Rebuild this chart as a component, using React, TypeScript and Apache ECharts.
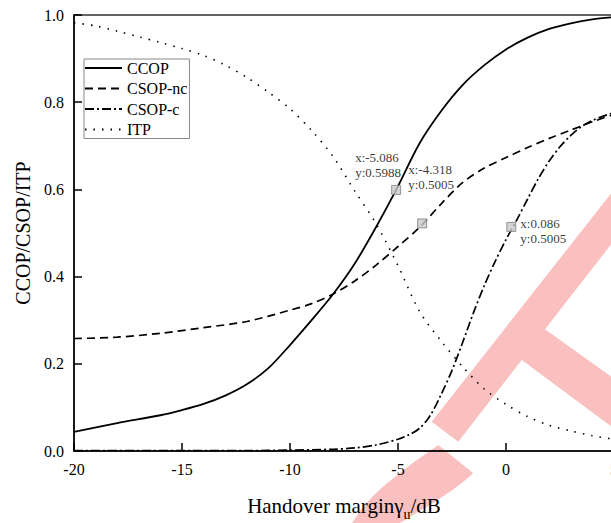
import React, { useEffect, useRef } from "react";
import * as echarts from "echarts";

const seriesNames = ["CCOP", "CSOP-nc", "CSOP-c", "ITP"];

const ccopX = [-20, -18, -16, -15, -14, -13, -12, -11, -10, -9, -8, -7, -6, -5.086, -4, -3, -2, -1, 0, 1, 2, 3, 4, 5];
const ccopY = [0.044, 0.064, 0.082, 0.094, 0.108, 0.127, 0.153, 0.19, 0.243, 0.3, 0.36, 0.43, 0.515, 0.5988, 0.706, 0.78, 0.84, 0.885, 0.921, 0.948, 0.968, 0.981, 0.99, 0.995];

const ncX = [-20, -18, -16, -14, -12, -10, -9, -8, -7, -6, -5, -4, -3, -2, -1, 0, 1, 2, 3, 4, 5];
const ncY = [0.258, 0.261, 0.27, 0.283, 0.297, 0.323, 0.338, 0.36, 0.39, 0.427, 0.469, 0.513, 0.567, 0.616, 0.649, 0.673, 0.696, 0.717, 0.736, 0.755, 0.772];

const cX = [-20, -12, -10, -8, -7, -6, -5, -4.5, -4, -3.5, -3, -2.5, -2, -1.5, -1, -0.5, 0, 0.5, 1, 1.5, 2, 2.5, 3, 3.5, 4, 4.5, 5];
const cY = [0.001, 0.001, 0.002, 0.004, 0.007, 0.014, 0.027, 0.037, 0.052, 0.082, 0.13, 0.185, 0.25, 0.318, 0.38, 0.435, 0.485, 0.53, 0.578, 0.625, 0.665, 0.698, 0.724, 0.744, 0.758, 0.768, 0.776];

const itpX = [-20, -19, -18, -17, -16, -15, -14, -13, -12, -11, -10, -9, -8, -7, -6, -5, -4, -3, -2, -1, 0, 1, 2, 3, 4, 5];
const itpY = [0.982, 0.975, 0.963, 0.95, 0.937, 0.923, 0.907, 0.885, 0.857, 0.823, 0.785, 0.735, 0.675, 0.596, 0.52, 0.425, 0.32, 0.252, 0.193, 0.142, 0.107, 0.079, 0.059, 0.046, 0.035, 0.027];

const markerX = [-5.086, -3.88, 0.245];
const markerY = [0.5988, 0.522, 0.514];
const markerText = ["x:-5.086\ny:0.5988", "x:-4.318\ny:0.5005", "x:0.086\ny:0.5005"];

const FONT = "Liberation Serif";

function pairs(xs: number[], ys: number[]) {
  return xs.map((x, i) => [x, ys[i]]);
}

export default function App() {
  const ref = useRef<HTMLDivElement>(null);
  useEffect(() => {
    if (!ref.current) return;
    const chart = echarts.init(ref.current, null, { renderer: "svg" });
    const labelOffsets = [[-36, -35], [-9, -56], [14, -6]];
    const lineBase = (name: string, xs: number[], ys: number[], type: any, width: number) => ({
      name,
      type: "line",
      data: pairs(xs, ys),
      smooth: 0.3,
      symbol: "none",
      showSymbol: false,
      lineStyle: { color: "#000", width, type },
      itemStyle: { color: "#000" },
      z: 3,
    });
    const pink = "#fac0c0";
    chart.setOption({
      animation: false,
      textStyle: { fontFamily: FONT },
      grid: {
        left: 74,
        top: 15,
        right: -3,
        bottom: 72,
        containLabel: false,
        outerBoundsMode: "none",
        show: true,
        borderColor: "#333",
        borderWidth: 1.5,
        backgroundColor: "transparent",
      },
      graphic: [
        {
          type: "polygon",
          z: -10,
          silent: true,
          shape: {
            points: [
              [431.7, 421.7],
              [620, 182],
              [620, 233],
              [545, 329.3],
              [620, 383],
              [620, 433],
              [521.7, 360],
              [458.3, 441.7],
            ],
          },
          style: { fill: pink },
        },
        {
          type: "polygon",
          z: -10,
          silent: true,
          shape: {
            points: [
              [352, 523],
              [362, 508],
              [372, 497],
              [386, 484],
              [400, 473],
              [414, 462],
              [427, 453],
              [438.3, 445],
              [473.3, 473.3],
              [463, 482],
              [451, 491],
              [436, 501],
              [418, 512],
              [400, 523],
            ],
          },
          style: { fill: pink },
        },
      ],
      legend: {
        data: seriesNames,
        orient: "vertical",
        left: 84,
        top: 59,
        itemWidth: 37,
        itemHeight: 14,
        itemGap: 4.5,
        padding: [1, 2, 1, 0],
        borderColor: "#888",
        borderWidth: 1,
        backgroundColor: "#fff",
        itemStyle: { opacity: 0 },
        textStyle: { fontFamily: FONT, fontSize: 16, color: "#000" },
      },
      xAxis: {
        type: "value",
        min: -20,
        max: 5,
        interval: 5,
        name: "{a|Handover margin}{a|γ}{s|u}{a|/dB}",
        nameLocation: "middle",
        nameGap: 44,
        nameTextStyle: {
          fontFamily: FONT,
          fontSize: 21,
          color: "#000",
          rich: {
            a: { fontFamily: FONT, fontSize: 21, color: "#000", lineHeight: 23, verticalAlign: "top" },
            s: { fontFamily: FONT, fontSize: 14, color: "#000", lineHeight: 14, verticalAlign: "top", padding: [12, 0, 0, 0] },
          },
        },
        axisLine: { show: true, onZero: false, lineStyle: { color: "#000", width: 1.5 } },
        axisTick: { show: true, inside: true, length: 8, lineStyle: { color: "#000", width: 1.5 } },
        axisLabel: { fontFamily: FONT, fontSize: 16, color: "#000", margin: 10 },
        splitLine: { show: false },
      },
      yAxis: {
        type: "value",
        min: 0,
        max: 1,
        interval: 0.2,
        name: "CCOP/CSOP/ITP",
        nameLocation: "middle",
        nameGap: 40,
        nameTextStyle: { fontFamily: FONT, fontSize: 20, color: "#000" },
        axisLine: { show: true, onZero: false, lineStyle: { color: "#000", width: 1.5 } },
        axisTick: { show: true, inside: true, length: 8, lineStyle: { color: "#000", width: 1.5 } },
        axisLabel: {
          fontFamily: FONT,
          fontSize: 16,
          color: "#000",
          margin: 10,
          formatter: (v: number) => v.toFixed(1),
        },
        splitLine: { show: false },
      },
      series: [
        lineBase(seriesNames[0], ccopX, ccopY, "solid", 1.8),
        lineBase(seriesNames[1], ncX, ncY, [8, 5], 1.7),
        lineBase(seriesNames[2], cX, cY, [9, 3, 2, 3], 1.7),
        lineBase(seriesNames[3], itpX, itpY, [1.5, 7], 1.6),
        {
          name: "markers",
          type: "scatter",
          symbol: "rect",
          symbolSize: 9,
          z: 5,
          itemStyle: { color: "#c8c8c8", borderColor: "#808080", borderWidth: 1 },
          data: markerX.map((x, i) => ({
            value: [x, markerY[i]],
            label: {
              show: true,
              formatter: markerText[i],
              position: labelOffsets[i],
              align: "left",
              verticalAlign: "top",
              fontFamily: FONT,
              fontSize: 13,
              lineHeight: 15,
              color: "#000",
            },
          })),
        },
      ],
    });
    return () => chart.dispose();
  }, []);
  return (
    <div
      ref={ref}
      style={{ position: "fixed", left: 0, top: 0, width: 611, height: 523, background: "#fff" }}
    />
  );
}
